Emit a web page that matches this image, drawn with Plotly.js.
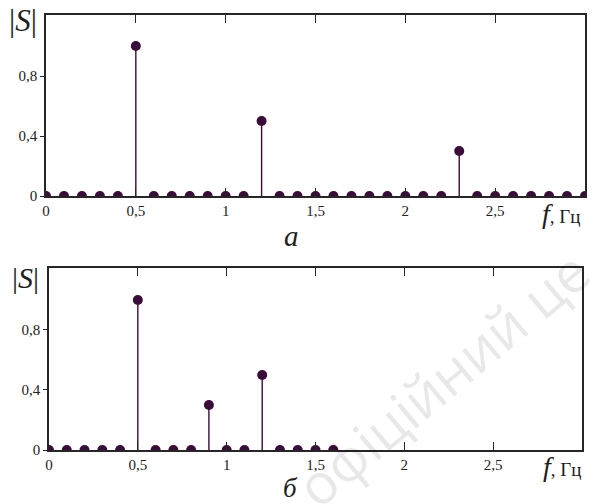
<!DOCTYPE html>
<html>
<head>
<meta charset="utf-8">
<script src="https://cdn.plot.ly/plotly-3.0.1.min.js"></script>
<style>
  html, body { margin: 0; padding: 0; background: #fff; }
  #chart { width: 601px; height: 504px; }
</style>
</head>
<body>
<div id="chart"></div>
<script>
// Amplitude spectrum |S| of two signals, sampled every 0.1 Hz

// Panel "а": three harmonics at 0.5, 1.2 and 2.3 Hz
const freqA = [0, 0.1, 0.2, 0.3, 0.4, 0.5, 0.6, 0.7, 0.8, 0.9,
               1.0, 1.1, 1.2, 1.3, 1.4, 1.5, 1.6, 1.7, 1.8, 1.9,
               2.0, 2.1, 2.2, 2.3, 2.4, 2.5, 2.6, 2.7, 2.8, 2.9, 3.0];
const magA  = [0, 0, 0, 0, 0, 1.0, 0, 0, 0, 0,
               0, 0, 0.5, 0, 0, 0, 0, 0, 0, 0,
               0, 0, 0, 0.3, 0, 0, 0, 0, 0, 0, 0];

// Panel "б": harmonics at 0.5, 0.9 and 1.2 Hz
const freqB = [0, 0.1, 0.2, 0.3, 0.4, 0.5, 0.6, 0.7, 0.8, 0.9,
               1.0, 1.1, 1.2, 1.3, 1.4, 1.5, 1.6];
const magB  = [0, 0, 0, 0, 0, 1.0, 0, 0, 0, 0.3,
               0, 0, 0.5, 0, 0, 0, 0];

// Tick labels (comma as decimal separator)
const xTickVals = [0, 0.5, 1, 1.5, 2, 2.5];
const xTickText = ['0', '0,5', '1', '1,5', '2', '2,5'];
const yTickVals = [0, 0.4, 0.8];
const yTickText = ['0', '0,4', '0,8'];

const ink = '#3a0c3a';
const frame = '#262626';
const serif = 'Liberation Serif';
const W = 601, H = 504;

// plot-area boxes in page pixels: [left, right, top, bottom]
const boxA = [46, 585, 15, 196];
const boxB = [49, 582, 268, 450];

// stems as one broken line: (f,0)-(f,s) segments separated by gaps
function stems(f, s) {
  const x = [], y = [];
  f.forEach((v, i) => { x.push(v, v, null); y.push(0, s[i], null); });
  return { x, y };
}

function panelTraces(f, s, xa, ya) {
  const st = stems(f, s);
  return [
    { type: 'scatter', mode: 'lines', x: st.x, y: st.y, xaxis: xa, yaxis: ya,
      line: { color: ink, width: 1.4 }, hoverinfo: 'skip', connectgaps: false },
    { type: 'scatter', mode: 'markers', x: f, y: s, xaxis: xa, yaxis: ya,
      marker: { color: ink, size: 10, line: { width: 0 } } }
  ];
}

const data = [
  ...panelTraces(freqA, magA, 'x', 'y'),
  ...panelTraces(freqB, magB, 'x2', 'y2')
];

const tickFont = { family: serif, size: 15, color: '#222' };

function xAxis(b, anchor) {
  return {
    domain: [b[0] / W, b[1] / W], anchor: anchor, range: [0, 3],
    tickvals: xTickVals, ticktext: xTickText, tickfont: tickFont,
    ticks: 'inside', ticklen: 8, tickwidth: 1.3, tickcolor: frame,
    showline: true, linecolor: frame, linewidth: 1.6, mirror: 'ticks',
    showgrid: false, zeroline: false
  };
}
function yAxis(b, anchor, ymax) {
  return {
    domain: [1 - b[3] / H, 1 - b[2] / H], anchor: anchor, range: [0, ymax],
    tickvals: yTickVals, ticktext: yTickText, tickfont: tickFont,
    ticks: 'outside', ticklen: 4, tickwidth: 1.3, tickcolor: frame,
    showline: true, linecolor: frame, linewidth: 1.6, mirror: true,
    showgrid: false, zeroline: false
  };
}

const label = (text, px, py, size, extra) => Object.assign({
  text: text, xref: 'paper', yref: 'paper', x: px / W, y: 1 - py / H,
  xanchor: 'center', yanchor: 'middle', showarrow: false,
  font: { family: serif, size: size, color: '#1e1e1e' }
}, extra || {});

const layout = {
  width: W, height: H,
  margin: { l: 0, r: 0, t: 0, b: 0 },
  paper_bgcolor: '#fff', plot_bgcolor: '#fff',
  showlegend: false,
  xaxis: xAxis(boxA, 'y'),
  yaxis: yAxis(boxA, 'x', 1.207),
  xaxis2: xAxis(boxB, 'y2'),
  yaxis2: yAxis(boxB, 'x2', 1.213),
  annotations: [
    label('|<i>S</i>|', 23, 21, 31),
    label('|<i>S</i>|', 25, 277, 30),
    label('<i>a</i>', 291, 236, 29),
    label('<i>б</i>', 290, 488, 27),
    label('<i>f</i><span style="font-size:19px">, Гц</span>', 540, 213, 28, { xanchor: 'left' }),
    label('<i>f</i><span style="font-size:19px">, Гц</span>', 541, 466, 28, { xanchor: 'left' }),
    // faint diagonal watermark
    { text: 'офіційний це', xref: 'paper', yref: 'paper', x: 442 / W, y: 1 - 378 / H,
      xanchor: 'center', yanchor: 'middle', showarrow: false, textangle: -40,
      font: { family: 'Open Sans', size: 56, color: 'rgba(0,0,0,0.09)' } }
  ]
};

Plotly.newPlot('chart', data, layout, { displayModeBar: false });
</script>
</body>
</html>
